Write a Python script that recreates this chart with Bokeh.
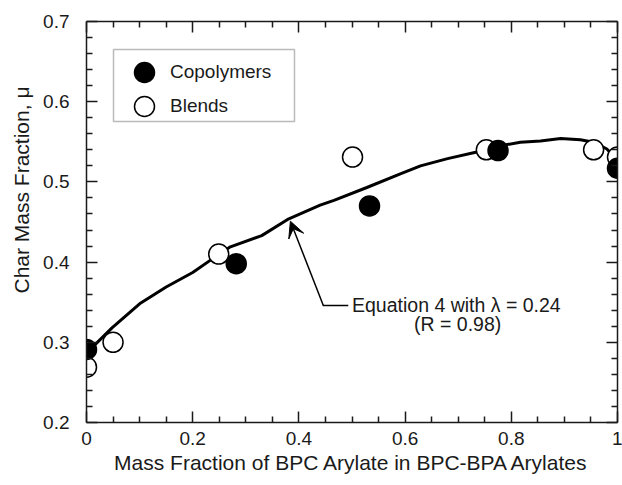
from bokeh.plotting import figure
from bokeh.models import (Range1d, FixedTicker, LinearAxis, Legend, LegendItem,
                          Arrow, VeeHead, Label, Title, BoxAnnotation)
from bokeh.embed import file_html
from bokeh.resources import INLINE

# ---- data ----
copolymer_x = [0.0, 0.282, 0.533, 0.775, 1.0]
copolymer_y = [0.291, 0.398, 0.470, 0.539, 0.517]

blend_x = [0.0, 0.050, 0.249, 0.501, 0.753, 0.955, 1.0]
blend_y = [0.269, 0.300, 0.410, 0.531, 0.540, 0.540, 0.531]

fit_x = [0.01, 0.048, 0.1, 0.15, 0.2, 0.237, 0.271, 0.33, 0.381, 0.44, 0.466, 0.528,
         0.591, 0.629, 0.68, 0.733, 0.78, 0.817, 0.855, 0.893, 0.93, 0.955, 0.98, 1.0]
fit_y = [0.293, 0.318, 0.348, 0.369, 0.387, 0.404, 0.419, 0.433, 0.454, 0.471, 0.477, 0.493,
         0.510, 0.520, 0.529, 0.537, 0.545, 0.5495, 0.551, 0.554, 0.5525, 0.5495, 0.541, 0.527]

x_ticks = [0, 0.2, 0.4, 0.6, 0.8, 1]
x_tick_labels = ["0", "0.2", "0.4", "0.6", "0.8", "1"]
x_minor = [0.05, 0.1, 0.15, 0.25, 0.3, 0.35, 0.45, 0.5, 0.55, 0.65, 0.7, 0.75, 0.85, 0.9, 0.95]
y_ticks = [0.2, 0.3, 0.4, 0.5, 0.6, 0.7]
y_tick_labels = ["0.2", "0.3", "0.4", "0.5", "0.6", "0.7"]
y_minor = [0.22, 0.24, 0.26, 0.28, 0.32, 0.34, 0.36, 0.38, 0.42, 0.44, 0.46, 0.48,
           0.52, 0.54, 0.56, 0.58, 0.62, 0.64, 0.66, 0.68]

x_label = "Mass Fraction of BPC Arylate in BPC-BPA Arylates"
y_label = "Char Mass Fraction, \u03bc"
series_names = ["Copolymers", "Blends"]
annot_line1 = "Equation 4 with \u03bb = 0.24"
annot_line2 = "(R = 0.98)"

FONT = "Liberation Sans"
INK = "#1a1a1a"

p = figure(width=622, height=485, output_backend="svg", toolbar_location=None,
           x_range=Range1d(0, 1), y_range=Range1d(0.2, 0.7),
           min_border_left=86, min_border_right=5, min_border_top=21, min_border_bottom=63)
p.xgrid.visible = False
p.ygrid.visible = False
p.outline_line_color = None
p.background_fill_color = "white"
p.border_fill_color = "white"

xt = FixedTicker(ticks=x_ticks, minor_ticks=x_minor)
yt = FixedTicker(ticks=y_ticks, minor_ticks=y_minor)


def style(ax):
    ax.axis_line_color = INK
    ax.axis_line_width = 1.5
    ax.major_tick_line_color = INK
    ax.major_tick_line_width = 1.5
    ax.minor_tick_line_color = INK
    ax.minor_tick_line_width = 1.5
    ax.major_tick_in = 11
    ax.major_tick_out = 0
    ax.minor_tick_in = 6
    ax.minor_tick_out = 0
    ax.major_label_text_font = FONT
    ax.major_label_text_color = INK
    ax.major_label_text_font_size = "19px"


xa = p.xaxis[0]
xa.ticker = xt
xa.major_label_overrides = dict(zip(x_ticks, x_tick_labels))
style(xa)
xa.major_label_standoff = 9
xa.axis_label = x_label
xa.axis_label_text_font = FONT
xa.axis_label_text_font_size = "21px"
xa.axis_label_text_font_style = "normal"
xa.axis_label_text_color = INK
xa.axis_label_standoff = 3

ya = p.yaxis[0]
ya.ticker = yt
ya.major_label_overrides = dict(zip(y_ticks, y_tick_labels))
style(ya)
ya.major_label_standoff = 17

# mirrored tick marks on the top and right edges (no labels)
top = LinearAxis(ticker=xt)
style(top)
top.major_label_overrides = {t: "" for t in x_ticks}
top.major_label_text_font_size = "1px"
top.major_label_standoff = 0
p.add_layout(top, "above")
right = LinearAxis(ticker=yt)
style(right)
right.major_label_overrides = {t: "" for t in y_ticks}
right.major_label_text_font_size = "1px"
right.major_label_standoff = 0
p.add_layout(right, "right")

# y-axis title, placed a little above the frame's centre as in the reference
p.add_layout(Title(text=y_label, align="left", offset=129, text_font=FONT,
                   text_font_size="21px", text_font_style="normal",
                   text_color=INK, standoff=15), "left")

# fitted curve
p.line(fit_x, fit_y, line_color="black", line_width=3)

bl = p.scatter(blend_x, blend_y, size=20, marker="circle",
               fill_color="white", line_color="black", line_width=1.5)
cop = p.scatter(copolymer_x, copolymer_y, size=20, marker="circle",
                fill_color="black", line_color="black", line_width=1.5)

# legend frame + one legend per row so marker size and row pitch match the reference
p.add_layout(BoxAnnotation(left=113, right=294, top=49, bottom=121,
                           left_units="canvas", right_units="canvas",
                           top_units="canvas", bottom_units="canvas",
                           fill_color="white", fill_alpha=1.0,
                           line_color=INK, line_width=1.5, level="annotation"))

for name, rend, yloc in [(series_names[0], cop, 325), (series_names[1], bl, 291)]:
    p.add_layout(Legend(items=[LegendItem(label=name, renderers=[rend])],
                        location=(33, yloc), glyph_width=50, glyph_height=50,
                        padding=0, margin=0, label_standoff=1,
                        label_text_font=FONT, label_text_font_size="19px",
                        label_text_color=INK, border_line_color=None,
                        background_fill_alpha=0.0))

# annotation
p.add_layout(Arrow(end=VeeHead(size=16, fill_color="black", line_color="black", line_width=1),
                   x_start=0.446, y_start=0.346, x_end=0.384, y_end=0.451,
                   line_color="black", line_width=1.5))
p.add_layout(Arrow(end=None, x_start=0.445, y_start=0.346, x_end=0.493, y_end=0.346,
                   line_color="black", line_width=1.5))
p.add_layout(Label(x=0.5, y=0.346, text=annot_line1, text_baseline="middle",
                   text_font=FONT, text_font_size="19.5px", text_color=INK))
p.add_layout(Label(x=0.699, y=0.3234, text=annot_line2, text_baseline="middle",
                   text_align="center", text_font=FONT, text_font_size="19.5px", text_color=INK))

open("out.html", "w").write(file_html(p, INLINE))
